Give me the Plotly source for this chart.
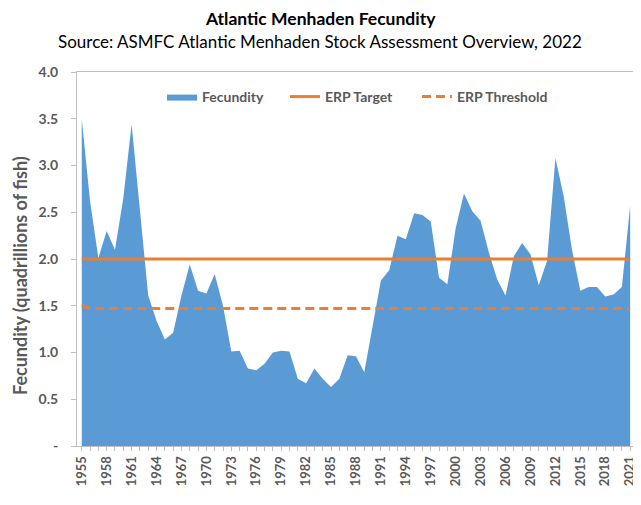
import plotly.graph_objects as go

years = list(range(1955, 2022))
fecundity = [3.50, 2.62, 2.01, 2.30, 2.10, 2.65, 3.44, 2.50, 1.61, 1.34,
             1.14, 1.21, 1.61, 1.94, 1.66, 1.63, 1.84, 1.50, 1.01, 1.02,
             0.83, 0.81, 0.88, 1.00, 1.02, 1.01, 0.72, 0.67, 0.83, 0.72,
             0.63, 0.72, 0.97, 0.96, 0.79, 1.28, 1.77, 1.88, 2.25, 2.21,
             2.49, 2.47, 2.40, 1.80, 1.73, 2.33, 2.70, 2.51, 2.41, 2.07,
             1.78, 1.61, 2.03, 2.17, 2.05, 1.72, 1.98, 3.08, 2.67, 2.10,
             1.66, 1.70, 1.70, 1.60, 1.62, 1.70, 2.57]
erp_target = [2.0] * len(years)
erp_threshold = [1.50] + [1.47] * (len(years) - 1)

x_tick_years = list(range(1955, 2022, 3))
y_tick_vals = [0, 0.5, 1.0, 1.5, 2.0, 2.5, 3.0, 3.5, 4.0]
y_tick_text = ["-", "0.5", "1.0", "1.5", "2.0", "2.5", "3.0", "3.5", "4.0"]

title_text = "Atlantic Menhaden Fecundity"
subtitle_text = "Source: ASMFC Atlantic Menhaden Stock Assessment Overview, 2022"
y_title_text = "Fecundity (quadrillions of fish)"

FONT = "Lato, 'Open Sans', sans-serif"
GRAY = "#595959"
BLUE = "#5B9BD5"
ORANGE = "#ED7D31"
AXIS = "#BFBFBF"

# page body has an 8px margin; figure coordinates = screen coordinates - 8
W, H = 633, 497
L, R, T, B = 69, 7, 64, 59
PW = W - L - R
PH = H - T - B


def px(xs):
    return (xs - 8 - L) / PW


def py(ys):
    return (H - B - (ys - 8)) / PH


fig = go.Figure()
fig.add_trace(go.Scatter(x=years, y=fecundity, name="Fecundity", mode="lines",
                         line=dict(width=0, color=BLUE), fill="tozeroy",
                         fillcolor=BLUE, legend="legend"))
fig.add_trace(go.Scatter(x=years, y=erp_target, name="ERP Target", mode="lines",
                         line=dict(width=3, color=ORANGE), legend="legend2"))
fig.add_trace(go.Scatter(x=years, y=erp_threshold, name="ERP Threshold", mode="lines",
                         line=dict(width=3, color=ORANGE, dash="9px,5px"),
                         legend="legend3"))


def legend_at(xs):
    return dict(orientation="h", x=px(xs), xanchor="left", y=py(97), yanchor="middle",
                font=dict(family=FONT, size=14, color=GRAY, weight="bold"),
                bgcolor="rgba(0,0,0,0)")


fig.update_layout(
    width=W, height=H,
    paper_bgcolor="white", plot_bgcolor="white",
    margin=dict(l=L, r=R, t=T, b=B, autoexpand=False),
    font=dict(family=FONT, color=GRAY),
    legend=legend_at(162),
    legend2=legend_at(285),
    legend3=legend_at(417),
    showlegend=True,
    annotations=[
        dict(text="<b>" + title_text + "</b>", xref="paper", yref="paper",
             x=px(320), y=py(18), xanchor="center", yanchor="middle",
             showarrow=False, font=dict(family=FONT, size=17.5, color="black")),
        dict(text=subtitle_text, xref="paper", yref="paper",
             x=px(320), y=py(42), xanchor="center", yanchor="middle",
             showarrow=False, font=dict(family=FONT, size=17, color="black")),
        dict(text=y_title_text, xref="paper", yref="paper", textangle=-90,
             x=px(20), y=py(276), xanchor="center", yanchor="middle",
             showarrow=False, font=dict(family=FONT, size=18, color=GRAY, weight="bold")),
    ],
)
fig.update_xaxes(
    range=[1954.43, 2021.46], tickmode="array", tickvals=x_tick_years,
    ticktext=[str(y) for y in x_tick_years], tickangle=-90, automargin=False,
    tickfont=dict(family=FONT, size=13, color=GRAY, weight="bold"),
    showgrid=False, zeroline=False, showline=True, linecolor=AXIS,
    linewidth=1, mirror=True, ticks="outside", ticklen=4, tickcolor=AXIS,
    minor=dict(dtick=1, tick0=1955, ticks="outside", ticklen=4, tickcolor=AXIS),
)
fig.update_yaxes(
    range=[0, 4], tickmode="array", tickvals=y_tick_vals, ticktext=y_tick_text,
    automargin=False, ticklabelstandoff=10,
    tickfont=dict(family=FONT, size=14, color=GRAY, weight="bold"),
    showgrid=False, zeroline=False, showline=True, linecolor=AXIS,
    linewidth=1, mirror=True, ticks="outside", ticklen=5, tickcolor=AXIS,
)

fig.write_html("out.html")
